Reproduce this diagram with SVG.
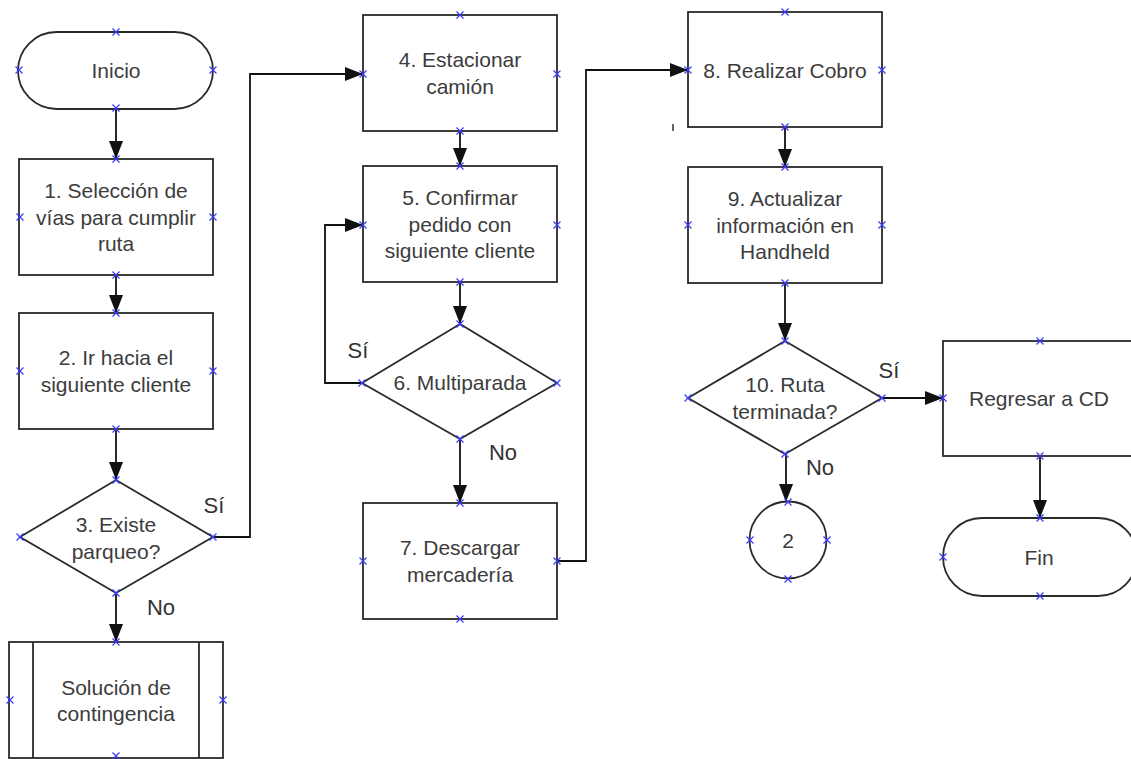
<svg xmlns="http://www.w3.org/2000/svg" xmlns:xlink="http://www.w3.org/1999/xlink" width="1131" height="759" viewBox="0 0 1131 759">
  <style>
    .shape { fill: #ffffff; stroke: #2a2a2a; stroke-width: 1.8; }
    .txt { font-family: "Liberation Sans", Arial, sans-serif; font-size: 21px; fill: #3c3c3c; text-anchor: middle; }
    .lbl { font-family: "Liberation Sans", Arial, sans-serif; font-size: 22px; fill: #333333; text-anchor: middle; }
    .conn { fill: none; stroke: #111111; stroke-width: 1.8; }
    .cp { fill: none; stroke: #3a3aff; stroke-width: 1.2; }
  </style>
  <defs>
    <marker id="arrow" markerUnits="userSpaceOnUse" markerWidth="18" markerHeight="14" refX="18" refY="7" orient="auto">
      <path d="M0,0 L18,7 L0,14 z" fill="#111111"/>
    </marker>
    <!-- connection point cross -->
    <path id="cp" class="cp" d="M-3.5,-3.5 L3.5,3.5 M-3.5,3.5 L3.5,-3.5"/>
  </defs>

  <rect width="1131" height="759" fill="#ffffff"/>

  <!-- connectors -->
  <g id="connectors">
    <path class="conn" marker-end="url(#arrow)" d="M116,109 L116,159"/>
    <path class="conn" marker-end="url(#arrow)" d="M116,275 L116,313"/>
    <path class="conn" marker-end="url(#arrow)" d="M116,429 L116,480"/>
    <path class="conn" marker-end="url(#arrow)" d="M116,593 L116,642"/>
    <path class="conn" marker-end="url(#arrow)" d="M213,537 L250,537 L250,74 L363,74"/>
    <path class="conn" marker-end="url(#arrow)" d="M460,131 L460,166"/>
    <path class="conn" marker-end="url(#arrow)" d="M460,282 L460,324"/>
    <path class="conn" marker-end="url(#arrow)" d="M362,383 L325,383 L325,225 L363,225"/>
    <path class="conn" marker-end="url(#arrow)" d="M460,439 L460,503"/>
    <path class="conn" marker-end="url(#arrow)" d="M557,561 L586,561 L586,70 L688,70"/>
    <path class="conn" marker-end="url(#arrow)" d="M785,127 L785,167"/>
    <path class="conn" marker-end="url(#arrow)" d="M785,283 L785,341"/>
    <path class="conn" marker-end="url(#arrow)" d="M786,454 L786,502"/>
    <path class="conn" marker-end="url(#arrow)" d="M882,398 L943,398"/>
    <path class="conn" marker-end="url(#arrow)" d="M1040,456 L1040,518"/>
    <text class="lbl" x="214" y="513">Sí</text>
    <text class="lbl" x="161" y="615">No</text>
    <text class="lbl" x="358" y="358">Sí</text>
    <text class="lbl" x="503" y="460">No</text>
    <text class="lbl" x="820" y="475">No</text>
    <text class="lbl" x="889" y="378">Sí</text>
    <!-- stray tick -->
    <path d="M673,124 L673,131" stroke="#333333" stroke-width="1.5"/>
  </g>

  <g id="inicio">
    <rect class="shape" x="18" y="32" width="195" height="77" rx="38.5" ry="38.5"/>
    <text class="txt" x="116" y="77.5">Inicio</text>
    <use xlink:href="#cp" x="116" y="32"/><use xlink:href="#cp" x="19" y="70"/>
    <use xlink:href="#cp" x="213" y="70"/><use xlink:href="#cp" x="116" y="108"/>
  </g>

  <g id="n1">
    <rect class="shape" x="19" y="159" width="194" height="116"/>
    <text class="txt" x="116" y="198">1. Selección de</text>
    <text class="txt" x="116" y="224.5">vías para cumplir</text>
    <text class="txt" x="116" y="251">ruta</text>
    <use xlink:href="#cp" x="116" y="159"/><use xlink:href="#cp" x="20" y="217"/>
    <use xlink:href="#cp" x="213" y="217"/><use xlink:href="#cp" x="116" y="275"/>
  </g>

  <g id="n2">
    <rect class="shape" x="19" y="313" width="194" height="116"/>
    <text class="txt" x="116" y="365">2. Ir hacia el</text>
    <text class="txt" x="116" y="391.5">siguiente cliente</text>
    <use xlink:href="#cp" x="116" y="313"/><use xlink:href="#cp" x="20" y="371"/>
    <use xlink:href="#cp" x="213" y="371"/><use xlink:href="#cp" x="116" y="429"/>
  </g>

  <g id="n3">
    <polygon class="shape" points="116,480 213,537 116,593 20,537"/>
    <text class="txt" x="116" y="532">3. Existe</text>
    <text class="txt" x="116" y="558.5">parqueo?</text>
    <use xlink:href="#cp" x="116" y="480"/><use xlink:href="#cp" x="20" y="537"/>
    <use xlink:href="#cp" x="213" y="537"/><use xlink:href="#cp" x="116" y="593"/>
  </g>

  <g id="contingencia">
    <rect class="shape" x="9" y="642" width="214" height="116"/>
    <line class="shape" x1="33" y1="642" x2="33" y2="758"/>
    <line class="shape" x1="199" y1="642" x2="199" y2="758"/>
    <text class="txt" x="116" y="694.5">Solución de</text>
    <text class="txt" x="116" y="721">contingencia</text>
    <use xlink:href="#cp" x="116" y="642"/><use xlink:href="#cp" x="10" y="700"/>
    <use xlink:href="#cp" x="223" y="700"/><use xlink:href="#cp" x="116" y="756"/>
  </g>

  <g id="n4">
    <rect class="shape" x="363" y="15" width="194" height="116"/>
    <text class="txt" x="460" y="67">4. Estacionar</text>
    <text class="txt" x="460" y="93.5">camión</text>
    <use xlink:href="#cp" x="460" y="15"/><use xlink:href="#cp" x="363" y="74"/>
    <use xlink:href="#cp" x="557" y="74"/><use xlink:href="#cp" x="460" y="131"/>
  </g>

  <g id="n5">
    <rect class="shape" x="363" y="166" width="194" height="116"/>
    <text class="txt" x="460" y="205">5. Confirmar</text>
    <text class="txt" x="460" y="231.5">pedido con</text>
    <text class="txt" x="460" y="258">siguiente cliente</text>
    <use xlink:href="#cp" x="460" y="166"/><use xlink:href="#cp" x="363" y="225"/>
    <use xlink:href="#cp" x="557" y="225"/><use xlink:href="#cp" x="460" y="282"/>
  </g>

  <g id="n6">
    <polygon class="shape" points="460,324 557,383 460,439 362,383"/>
    <text class="txt" x="460" y="390">6. Multiparada</text>
    <use xlink:href="#cp" x="460" y="324"/><use xlink:href="#cp" x="362" y="383"/>
    <use xlink:href="#cp" x="557" y="383"/><use xlink:href="#cp" x="460" y="439"/>
  </g>

  <g id="n7">
    <rect class="shape" x="363" y="503" width="194" height="116"/>
    <text class="txt" x="460" y="555">7. Descargar</text>
    <text class="txt" x="460" y="581.5">mercadería</text>
    <use xlink:href="#cp" x="460" y="503"/><use xlink:href="#cp" x="363" y="561"/>
    <use xlink:href="#cp" x="557" y="561"/><use xlink:href="#cp" x="460" y="619"/>
  </g>

  <g id="n8">
    <rect class="shape" x="688" y="12" width="194" height="115"/>
    <text class="txt" x="785" y="77.5">8. Realizar Cobro</text>
    <use xlink:href="#cp" x="785" y="12"/><use xlink:href="#cp" x="688" y="70"/>
    <use xlink:href="#cp" x="882" y="70"/><use xlink:href="#cp" x="785" y="127"/>
  </g>

  <g id="n9">
    <rect class="shape" x="688" y="167" width="194" height="116"/>
    <text class="txt" x="785" y="206">9. Actualizar</text>
    <text class="txt" x="785" y="232.5">información en</text>
    <text class="txt" x="785" y="259">Handheld</text>
    <use xlink:href="#cp" x="785" y="167"/><use xlink:href="#cp" x="688" y="225"/>
    <use xlink:href="#cp" x="882" y="225"/><use xlink:href="#cp" x="785" y="283"/>
  </g>

  <g id="n10">
    <polygon class="shape" points="785,341 882,398 785,454 688,398"/>
    <text class="txt" x="785" y="392">10. Ruta</text>
    <text class="txt" x="785" y="418.5">terminada?</text>
    <use xlink:href="#cp" x="785" y="341"/><use xlink:href="#cp" x="688" y="398"/>
    <use xlink:href="#cp" x="882" y="398"/><use xlink:href="#cp" x="785" y="454"/>
  </g>

  <g id="conector2">
    <circle class="shape" cx="788" cy="540" r="38.5"/>
    <text class="txt" x="788" y="548">2</text>
    <use xlink:href="#cp" x="788" y="502"/><use xlink:href="#cp" x="750" y="540"/>
    <use xlink:href="#cp" x="827" y="540"/><use xlink:href="#cp" x="788" y="579"/>
  </g>

  <g id="regresar">
    <rect class="shape" x="943" y="341" width="194" height="115"/>
    <text class="txt" x="1039" y="405.5">Regresar a CD</text>
    <use xlink:href="#cp" x="1040" y="341"/><use xlink:href="#cp" x="943" y="398"/>
    <use xlink:href="#cp" x="1040" y="456"/>
  </g>

  <g id="fin">
    <rect class="shape" x="943" y="518" width="194" height="78" rx="39" ry="39"/>
    <text class="txt" x="1039" y="564.5">Fin</text>
    <use xlink:href="#cp" x="1040" y="518"/><use xlink:href="#cp" x="943" y="557"/>
    <use xlink:href="#cp" x="1040" y="596"/>
  </g>
</svg>
